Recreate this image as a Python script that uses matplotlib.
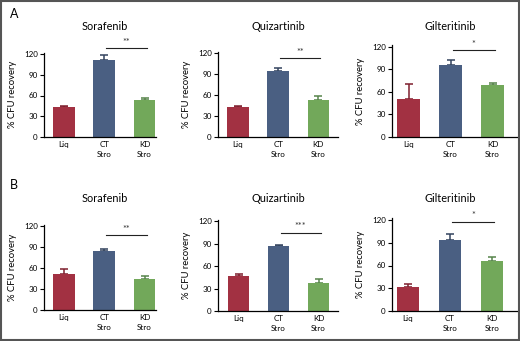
import matplotlib
matplotlib.use("Agg")
import matplotlib.pyplot as plt
from matplotlib.patches import Rectangle

plt.rcParams['font.family'] = ['Lato', 'DejaVu Sans']

# data
groups = ["Liq", "CT\nStro", "KD\nStro"]
drugs = ["Sorafenib", "Quizartinib", "Gilteritinib"]

a_sor = [43, 111, 53]
a_sor_err = [2.5, 7, 4]
a_quiz = [43, 95, 53]
a_quiz_err = [1, 4, 6]
a_gilt = [51, 95.5, 69]
a_gilt_err = [19.5, 6.5, 2.5]

b_sor = [51, 85, 44]
b_sor_err = [7, 1.5, 5]
b_quiz = [47, 87.5, 38]
b_quiz_err = [2, 1, 4.5]
b_gilt = [32, 93, 66]
b_gilt_err = [4, 8.5, 5]

sig_a = ["**", "**", "*"]
sig_a_y = [128, 113, 115]
sig_b = ["**", "***", "*"]
sig_b_y = [107, 105, 118]

colors = ["#a23142", "#4a5f82", "#72a85a"]
ecolors = ["#7e1f2e", "#33435e", "#56844a"]

W, H = 520, 341
fig = plt.figure(figsize=(W / 100, H / 100), dpi=100)

# pixel layout: y-axis x, axis end x, zero y, px per 120, first bar center, bar spacing
layout = [
    (44, 156, 137, 83, 64, 40.3),
    (218, 338, 137, 84, 238, 40.2),
    (392, 517, 137, 90.5, 408.5, 42),
    (44, 156, 310, 84, 64, 40.3),
    (218, 338, 311, 89.7, 238.5, 40),
    (392, 517, 311, 91, 408, 42),
]

vals = [a_sor, a_quiz, a_gilt, b_sor, b_quiz, b_gilt]
errs = [a_sor_err, a_quiz_err, a_gilt_err, b_sor_err, b_quiz_err, b_gilt_err]
sigs = sig_a + sig_b
sig_ys = sig_a_y + sig_b_y
titles = drugs + drugs
title_y = [27, 27, 27, 198, 199, 198]

ytop = 122
for i in range(6):
    x0, x1, y0, h120, c0, s = layout[i]
    ppu = h120 / 120.0
    top = y0 - ytop * ppu
    ax = fig.add_axes([x0 / W, 1 - y0 / H, (x1 - x0) / W, (y0 - top) / H])
    pos = [0, 1, 2]
    ax.bar(pos, vals[i], width=0.54, color=colors, edgecolor="none", zorder=2)
    for p, v, e, ec in zip(pos, vals[i], errs[i], ecolors):
        ax.errorbar(p, v, yerr=[[0], [e]], fmt="none", ecolor=ec, elinewidth=1.1,
                    capsize=3, capthick=1.1, zorder=1)
    ax.set_xlim((x0 - c0) / s, (x1 - c0) / s)
    ax.set_ylim(0, ytop)
    ax.set_yticks([0, 30, 60, 90, 120])
    ax.set_xticks(pos)
    ax.set_xticklabels(groups, fontsize=5.8, linespacing=1.5)
    ax.tick_params(axis="x", length=0, pad=3)
    ax.tick_params(axis="y", labelsize=5.8, length=3, width=0.8, pad=1.5)
    for sp in ["top", "right"]:
        ax.spines[sp].set_visible(False)
    for sp in ["left", "bottom"]:
        ax.spines[sp].set_linewidth(0.9)
    ax.set_ylabel("% CFU recovery", fontsize=6.8, labelpad=5)
    ax.plot([1.05, 2.05], [sig_ys[i], sig_ys[i]], color="#222222", lw=0.8,
            clip_on=False)
    ax.text(1.55, sig_ys[i] + 1.5, sigs[i], ha="center", va="bottom", fontsize=6.5,
            color="#333333", clip_on=False)
    fig.text((c0 + s) / W, 1 - title_y[i] / H, titles[i], ha="center", va="center",
             fontsize=7.8)

fig.text(10 / W, 1 - 14 / H, "A", ha="left", va="center", fontsize=9)
fig.text(10 / W, 1 - 185 / H, "B", ha="left", va="center", fontsize=9)

fig.patches.append(Rectangle((0.002, 0.003), 0.996, 0.994, transform=fig.transFigure,
                             fill=False, edgecolor="#555555", lw=1.5))

fig.savefig("out.png", dpi=100)
